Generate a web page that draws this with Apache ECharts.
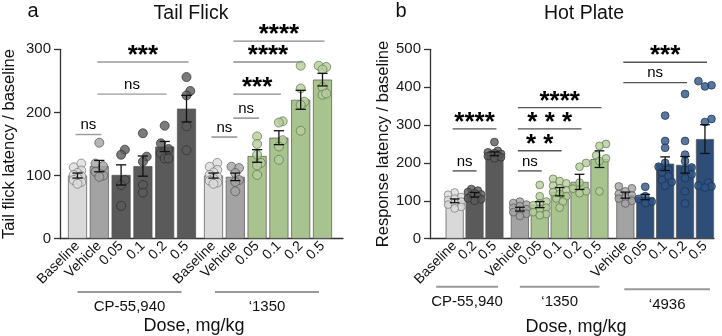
<!DOCTYPE html>
<html><head><meta charset="utf-8">
<script src="https://cdn.jsdelivr.net/npm/echarts/dist/echarts.min.js"></script>
<style>html,body{margin:0;padding:0;background:#fff}#c{width:722px;height:336px}</style>
</head><body><div id="c"></div>
<script>
// ---------------- DATA ----------------
// Panel a — Tail Flick
const tfTitle = 'Tail Flick';
const tfYName = 'Tail flick latency / baseline';
const tfTicks = [0, 100, 200, 300];
const tfGroupNames = ['CP-55,940', '\u20181350'];
const tfCatsCP = ['Baseline', 'Vehicle', '0.05', '0.1', '0.2', '0.5'];
const tfCats1350 = ['Baseline', 'Vehicle', '0.05', '0.1', '0.2', '0.5'];
const tfMeansCP = [100, 115, 101, 115, 146, 206];
const tfErrCP = [4, 9, 16, 16, 8, 21];
const tfMeans1350 = [100, 98, 131, 160, 220, 252];
const tfErr1350 = [4, 6, 10, 11, 15, 10];
const tfPtsCP = [
  [119, 113, 108, 104, 101, 99, 96, 93, 90, 87],
  [152, 119, 115, 106, 100, 98],
  [141, 133, 93, 85, 52],
  [167, 130, 122, 85, 73],
  [179, 151, 142, 135, 127, 127],
  [256, 234, 227, 178, 140]
];
const tfPts1350 = [
  [120, 114, 109, 105, 101, 98, 95, 92, 89, 87],
  [114, 112, 104, 93, 90, 75],
  [162, 150, 133, 120, 116, 101],
  [186, 184, 156, 146, 125],
  [274, 238, 217, 212, 171],
  [274, 272, 268, 240, 228, 230]
];
// brackets: [fromIndex, toIndex, yValue, label]
const tfBracketsCP = [[0, 1, 165, 'ns'], [1, 4, 229, 'ns'], [1, 5, 280, '***']];
const tfBrackets1350 = [[0, 1, 161, 'ns'], [1, 2, 191, 'ns'], [1, 3, 229, '***'], [1, 4, 280, '****'], [1, 5, 313, '****']];

// Panel b — Hot Plate
const hpTitle = 'Hot Plate';
const hpYName = 'Response latency / baseline';
const hpTicks = [0, 100, 200, 300, 400, 500];
const hpGroupNames = ['CP-55,940', '\u20181350', '\u20184936'];
const hpCatsCP = ['Baseline', '0.2', '0.5'];
const hpCats1350 = ['Vehicle', '0.05', '0.1', '0.2', '0.5'];
const hpCats4936 = ['Vehicle', '0.05', '0.1', '0.2', '0.5'];
const hpMeansCP = [100, 116, 224];
const hpErrCP = [5, 6, 5];
const hpMeans1350 = [78, 90, 124, 150, 210];
const hpErr1350 = [5, 8, 11, 20, 22];
const hpMeans4936 = [115, 110, 198, 195, 263];
const hpErr4936 = [8, 7, 18, 22, 38];
const hpPtsCP = [
  [122, 116, 110, 106, 102, 98, 94, 90, 84, 80],
  [131, 127, 123, 120, 117, 114, 111, 107, 104, 100],
  [255, 232, 228, 226, 224, 222, 220, 218, 215, 212]
];
const hpPts1350 = [
  [98, 94, 90, 86, 82, 78, 74, 70, 66, 60],
  [142, 112, 98, 93, 88, 82, 78, 70, 65, 62],
  [158, 152, 146, 140, 133, 128, 123, 118, 112, 106, 98, 82],
  [200, 190, 148, 132, 125, 120],
  [250, 245, 220, 212, 205, 125]
];
const hpPts4936 = [
  [138, 133, 125, 118, 114, 110, 106, 100, 93],
  [137, 112, 105, 98, 94],
  [325, 258, 240, 200, 190, 182, 175, 165, 155, 150, 140],
  [382, 258, 222, 205, 188, 182, 170, 160, 125, 93],
  [416, 405, 402, 316, 308, 148, 140, 138, 135]
];
const hpBracketsCP = [[0, 1, 179, 'ns'], [0, 2, 290, '****']];
const hpBrackets1350 = [[0, 1, 179, 'ns'], [0, 2, 232, '* *'], [0, 3, 290, '* * *'], [0, 4, 346, '****']];
const hpBrackets4936 = [[0, 3, 412, 'ns'], [0, 4, 466, '***']];

// ---------------- STYLE ----------------
const FONT = '"Liberation Sans", Arial, Helvetica, sans-serif';
const BAR = { light: '#d9d9d9', mid: '#a3a3a3', dark: '#5a5a5a', green: '#a8c38e', navy: '#2e4d77' };
const PT = {
  light: ['#dcdcdc', '#777777'], mid: ['#a3a3a3', '#555555'], dark: ['#5a5a5a', '#2e2e2e'],
  green: ['#b6cc9e', '#5c7848'], navy: ['#2f5483', '#1b3253']
};
const tfColCP = ['light', 'mid', 'dark', 'dark', 'dark', 'dark'];
const tfCol1350 = ['light', 'mid', 'green', 'green', 'green', 'green'];
const hpColCP = ['light', 'dark', 'dark'];
const hpCol1350 = ['mid', 'green', 'green', 'green', 'green'];
const hpCol4936 = ['mid', 'navy', 'navy', 'navy', 'navy'];

const TOP = 49.3, H = 189.4;

const grids = [], xAxes = [], yAxes = [], series = [];

function axisGrid(left, width, ticks, yName, nameGap) {
  const gi = grids.length;
  grids.push({ left, top: TOP, width, height: H });
  xAxes.push({ gridIndex: gi, type: 'category', data: [''], axisLine: { lineStyle: { color: '#333', width: 1.3 } },
    axisTick: { show: false }, axisLabel: { show: false }, splitLine: { show: false } });
  yAxes.push({ gridIndex: gi, type: 'value', min: ticks[0], max: ticks[ticks.length - 1], interval: ticks[1] - ticks[0],
    name: yName, nameLocation: 'middle', nameGap,
    nameTextStyle: { fontFamily: FONT, fontSize: 16.5, color: '#111' },
    axisLine: { show: true, lineStyle: { color: '#333', width: 1.3 } },
    axisTick: { show: true, length: 6, lineStyle: { color: '#333', width: 1.3 } },
    axisLabel: { fontFamily: FONT, fontSize: 15, color: '#1a1a1a', margin: 9 },
    splitLine: { show: false } });
}

function swarm(vals, pxPerUnit, d, maxHalf, step) {
  const order = vals.map((v, i) => i).sort((a, b) => vals[a] - vals[b]);
  const placed = [], off = new Array(vals.length).fill(0);
  const cands = [0];
  for (let k = 1; k * step <= maxHalf + 0.01; k++) cands.push(k * step, -k * step);
  for (const i of order) {
    const y = vals[i] * pxPerUnit;
    let best = 0, bestScore = -1;
    for (const c of cands) {
      let m = Infinity;
      for (const p of placed) m = Math.min(m, Math.hypot(p.x - c, p.y - y));
      if (m >= d * 0.8) { best = c; break; }
      if (m > bestScore) { bestScore = m; best = c; }
    }
    placed.push({ x: best, y });
    off[i] = best;
  }
  return off;
}

function group(cfg) {
  const { left, width, ticks, cats, means, errs, pts, cols, barW, dot, brackets, brColor, label, ulDy, lbDy, padL, padR } = cfg;
  const n = cats.length;
  const yMax = ticks[ticks.length - 1];
  const gi = grids.length;
  grids.push({ left, top: TOP, width, height: H });
  const xc = xAxes.length;
  xAxes.push({ gridIndex: gi, type: 'category', data: cats, axisLine: { show: false }, axisTick: { show: false },
    axisLabel: { interval: 0, rotate: 45, fontFamily: FONT, fontSize: 14, color: '#111', margin: 5 } });
  const xv = xAxes.length;
  xAxes.push({ gridIndex: gi, type: 'value', min: -0.5, max: n - 0.5, show: false });
  const yi = yAxes.length;
  yAxes.push({ gridIndex: gi, type: 'value', min: 0, max: yMax, show: false });

  series.push({ type: 'bar', xAxisIndex: xc, yAxisIndex: yi, barWidth: barW, z: 2,
    data: means.map((m, i) => ({ value: m, itemStyle: { color: BAR[cols[i]], borderColor: '#555', borderWidth: 0.7 } })) });

  const slot = width / n, ppu = H / yMax;
  const sdata = [];
  pts.forEach((arr, i) => {
    const off = swarm(arr, ppu, dot, barW / 2 - dot / 2 + 1.5, dot * 0.42);
    arr.forEach((v, j) => sdata.push({ value: [i + off[j] / slot, v],
      itemStyle: { color: PT[cols[i]][0], borderColor: PT[cols[i]][1], borderWidth: 0.9 } }));
  });
  series.push({ type: 'scatter', xAxisIndex: xv, yAxisIndex: yi, symbolSize: dot, z: 3, data: sdata });

  series.push({ type: 'custom', xAxisIndex: xc, yAxisIndex: yi, z: 4, clip: false,
    data: means.map((m, i) => [i, m, errs[i]]),
    renderItem: (p, api) => {
      const x = api.value(0), m = api.value(1), e = api.value(2);
      const t = api.coord([x, m + e]), b = api.coord([x, m - e]);
      const cw = barW * 0.27;
      const st = { stroke: '#111', lineWidth: 1.3 };
      return { type: 'group', children: [
        { type: 'line', shape: { x1: t[0], y1: t[1], x2: b[0], y2: b[1] }, style: st },
        { type: 'line', shape: { x1: t[0] - cw, y1: t[1], x2: t[0] + cw, y2: t[1] }, style: st },
        { type: 'line', shape: { x1: b[0] - cw, y1: b[1], x2: b[0] + cw, y2: b[1] }, style: st }
      ] };
    } });

  series.push({ type: 'custom', xAxisIndex: xc, yAxisIndex: yi, z: 5, clip: false,
    data: brackets.map(b => [b[0], b[1], b[2]]),
    renderItem: (p, api) => {
      const b = brackets[p.dataIndex];
      const a = api.coord([api.value(0), api.value(2)]), c = api.coord([api.value(1), api.value(2)]);
      const stars = b[3] !== 'ns';
      return { type: 'group', children: [
        { type: 'line', shape: { x1: a[0] - 2, y1: a[1], x2: c[0] + 2, y2: c[1] }, style: { stroke: brColor, lineWidth: 1.4 } },
        { type: 'text', style: { text: b[3], x: (a[0] + c[0]) / 2, y: stars ? a[1] + 7 : a[1] - 2,
          align: 'center', verticalAlign: 'bottom', fill: '#000',
          font: stars ? 'bold 26px ' + FONT : '15px ' + FONT } }
      ] };
    } });

  series.push({ type: 'custom', xAxisIndex: xc, yAxisIndex: yi, z: 5, clip: false, data: [[0, n - 1]],
    renderItem: (p, api) => {
      const a = api.coord([api.value(0), 0]), c = api.coord([api.value(1), 0]);
      const x1 = a[0] + padL, x2 = c[0] + padR;
      return { type: 'group', children: [
        { type: 'line', shape: { x1, y1: a[1] + ulDy, x2, y2: a[1] + ulDy }, style: { stroke: '#999', lineWidth: 2 } },
        { type: 'text', style: { text: label, x: (x1 + x2) / 2, y: a[1] + lbDy, align: 'center', verticalAlign: 'middle',
          fill: '#111', font: '15px ' + FONT } }
      ] };
    } });
}

// Panel a
axisGrid(59, 284, tfTicks, tfYName, 42);
const aSlot = 21.8;
group({ left: 66.6, width: aSlot * 6, ticks: tfTicks, cats: tfCatsCP, means: tfMeansCP, errs: tfErrCP, pts: tfPtsCP,
  cols: tfColCP, barW: 19, dot: 9, brackets: tfBracketsCP, brColor: '#9a9a9a', label: tfGroupNames[0], ulDy: 53.3, lbDy: 68.5, padL: 0, padR: -5 });
group({ left: 202.6, width: aSlot * 6, ticks: tfTicks, cats: tfCats1350, means: tfMeans1350, errs: tfErr1350, pts: tfPts1350,
  cols: tfCol1350, barW: 19, dot: 9, brackets: tfBrackets1350, brColor: '#8a8a8a', label: tfGroupNames[1], ulDy: 53.3, lbDy: 68.5, padL: 1.5, padR: -3.5 });

// Panel b
axisGrid(430, 284, hpTicks, hpYName, 35);
const bSlot = 19.9;
group({ left: 444.7, width: bSlot * 3, ticks: hpTicks, cats: hpCatsCP, means: hpMeansCP, errs: hpErrCP, pts: hpPtsCP,
  cols: hpColCP, barW: 18, dot: 7.8, brackets: hpBracketsCP, brColor: '#555', label: hpGroupNames[0], ulDy: 48, lbDy: 63.5, padL: -18.5, padR: 3.5 });
group({ left: 509.9, width: bSlot * 5, ticks: hpTicks, cats: hpCats1350, means: hpMeans1350, errs: hpErr1350, pts: hpPts1350,
  cols: hpCol1350, barW: 18, dot: 7.8, brackets: hpBrackets1350, brColor: '#555', label: hpGroupNames[1], ulDy: 48, lbDy: 63.5, padL: 0, padR: 0 });
group({ left: 615.4, width: bSlot * 5, ticks: hpTicks, cats: hpCats4936, means: hpMeans4936, errs: hpErr4936, pts: hpPts4936,
  cols: hpCol4936, barW: 18, dot: 7.8, brackets: hpBrackets4936, brColor: '#555', label: hpGroupNames[2], ulDy: 50.5, lbDy: 66.5, padL: -1, padR: 5 });

const txt = (t, x, y, size) => ({ type: 'text', x, y, style: { text: t, align: 'center', verticalAlign: 'middle',
  textAlign: 'center', textVerticalAlign: 'middle', fill: '#111', font: size + 'px ' + FONT } });

const chart = echarts.init(document.getElementById('c'), null, { renderer: 'canvas' });
chart.setOption({
  animation: false,
  grid: grids, xAxis: xAxes, yAxis: yAxes, series,
  graphic: [
    txt('a', 33, 11, 20), txt(tfTitle, 191, 14, 19.5), txt('Dose, mg/kg', 194, 326, 18),
    txt('b', 401, 11, 20), txt(hpTitle, 584, 14, 19.5), txt('Dose, mg/kg', 576, 327, 18)
  ]
});
</script></body></html>
